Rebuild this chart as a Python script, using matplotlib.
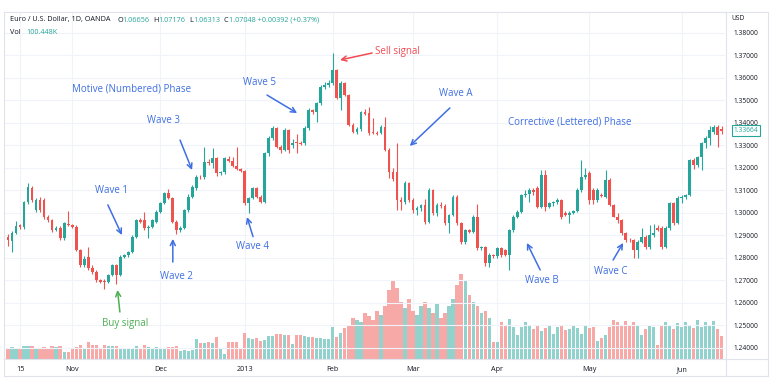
import matplotlib
matplotlib.use("Agg")
import matplotlib.pyplot as plt
from matplotlib.lines import Line2D
from matplotlib.ticker import FormatStrFormatter

W, H = 780, 387

# daily EUR/USD candles (index = trading day)
open_ = [1.2895, 1.2875, 1.2913, 1.2945, 1.2938, 1.3047, 1.3113, 1.3013, 1.3058, 1.3058,
         1.2984, 1.2969, 1.2924, 1.2932, 1.2887, 1.2952, 1.2946, 1.2939, 1.2836, 1.2769,
         1.2806, 1.2754, 1.2739, 1.2702, 1.2697, 1.2693, 1.2724, 1.2769, 1.2724, 1.2806,
         1.2813, 1.2828, 1.2895, 1.2969, 1.2969, 1.2932, 1.2939, 1.2961, 1.3006, 1.3043,
         1.3087, 1.3065, 1.2961, 1.2924, 1.2932, 1.3013, 1.3073, 1.3110, 1.3162, 1.3158,
         1.3228, 1.3221, 1.3243, 1.3176, 1.3180, 1.3240, 1.3230, 1.3210, 1.3195, 1.3185,
         1.3043, 1.3065, 1.3110, 1.3073, 1.3050, 1.3265, 1.3332, 1.3376, 1.3295, 1.3280,
         1.3369, 1.3300, 1.3317, 1.3310, 1.3310, 1.3376, 1.3458, 1.3450, 1.3488, 1.3562,
         1.3570, 1.3578, 1.3636, 1.3510, 1.3576, 1.3525, 1.3390, 1.3360, 1.3372, 1.3450,
         1.3443, 1.3360, 1.3355, 1.3354, 1.3384, 1.3280, 1.3184, 1.3184, 1.3058, 1.3050,
         1.3132, 1.3058, 1.3013, 1.3020, 1.3036, 1.2961, 1.3102, 1.2999, 1.3036, 1.3030,
         1.2954, 1.2990, 1.3073, 1.2954, 1.2873, 1.2924, 1.2917, 1.2984, 1.2843, 1.2850,
         1.2776, 1.2813, 1.2810, 1.2843, 1.2835, 1.2813, 1.2924, 1.2984, 1.3006, 1.3080,
         1.3085, 1.3100, 1.3110, 1.3028, 1.3169, 1.3028, 1.3043, 1.3050, 1.3058, 1.3002,
         1.2990, 1.3002, 1.3010, 1.3102, 1.3162, 1.3176, 1.3100, 1.3058, 1.3080, 1.3073,
         1.3147, 1.3036, 1.2984, 1.2969, 1.2910, 1.2880, 1.2878, 1.2836, 1.2873, 1.2895,
         1.2849, 1.2900, 1.2932, 1.2932, 1.2850, 1.2932, 1.3043, 1.2954, 1.3065, 1.3070,
         1.3080, 1.3236, 1.3213, 1.3250, 1.3310, 1.3332, 1.3360, 1.3380, 1.3375]
high = [1.2905, 1.2920, 1.2965, 1.2952, 1.3052, 1.3135, 1.3120, 1.3065, 1.3070, 1.3065,
        1.2992, 1.2975, 1.2940, 1.2940, 1.2960, 1.3010, 1.2950, 1.2945, 1.2840, 1.2810,
        1.2850, 1.2770, 1.2745, 1.2708, 1.2705, 1.2730, 1.2775, 1.2775, 1.2812, 1.2818,
        1.2830, 1.2900, 1.2975, 1.2978, 1.3005, 1.2945, 1.2975, 1.3012, 1.3048, 1.3092,
        1.3105, 1.3070, 1.2968, 1.2940, 1.3018, 1.3085, 1.3125, 1.3170, 1.3170, 1.3295,
        1.3240, 1.3290, 1.3250, 1.3185, 1.3250, 1.3255, 1.3250, 1.3295, 1.3200, 1.3190,
        1.3070, 1.3115, 1.3115, 1.3078, 1.3270, 1.3340, 1.3385, 1.3382, 1.3300, 1.3378,
        1.3372, 1.3330, 1.3350, 1.3320, 1.3385, 1.3465, 1.3462, 1.3495, 1.3570, 1.3580,
        1.3590, 1.3711, 1.3640, 1.3585, 1.3580, 1.3530, 1.3400, 1.3380, 1.3455, 1.3460,
        1.3470, 1.3420, 1.3365, 1.3390, 1.3428, 1.3290, 1.3200, 1.3310, 1.3070, 1.3140,
        1.3138, 1.3065, 1.3030, 1.3040, 1.3060, 1.3110, 1.3108, 1.3045, 1.3050, 1.3040,
        1.2995, 1.3080, 1.3078, 1.2960, 1.2930, 1.2930, 1.2990, 1.3040, 1.2855, 1.2855,
        1.2820, 1.2818, 1.2850, 1.2848, 1.2840, 1.2930, 1.2990, 1.3015, 1.3085, 1.3100,
        1.3110, 1.3110, 1.3120, 1.3190, 1.3190, 1.3050, 1.3055, 1.3065, 1.3062, 1.3010,
        1.3010, 1.3015, 1.3110, 1.3236, 1.3200, 1.3185, 1.3110, 1.3110, 1.3090, 1.3190,
        1.3155, 1.3040, 1.3000, 1.2975, 1.2915, 1.2890, 1.2885, 1.2880, 1.2935, 1.2900,
        1.2945, 1.2950, 1.2945, 1.2940, 1.2940, 1.3050, 1.3048, 1.3075, 1.3080, 1.3085,
        1.3240, 1.3245, 1.3255, 1.3315, 1.3340, 1.3385, 1.3390, 1.3390, 1.3385]
low = [1.2855, 1.2825, 1.2905, 1.2930, 1.2930, 1.3040, 1.3050, 1.3005, 1.3005, 1.2975,
       1.2960, 1.2915, 1.2918, 1.2880, 1.2882, 1.2942, 1.2935, 1.2830, 1.2760, 1.2762,
       1.2745, 1.2730, 1.2695, 1.2688, 1.2660, 1.2688, 1.2718, 1.2685, 1.2718, 1.2800,
       1.2805, 1.2822, 1.2890, 1.2955, 1.2925, 1.2890, 1.2935, 1.2955, 1.3000, 1.3038,
       1.3060, 1.2955, 1.2905, 1.2915, 1.2928, 1.3005, 1.3065, 1.3100, 1.3150, 1.3150,
       1.3215, 1.3200, 1.3165, 1.3170, 1.3175, 1.3225, 1.3205, 1.3190, 1.3180, 1.3035,
       1.3000, 1.3060, 1.3068, 1.3045, 1.3045, 1.3255, 1.3325, 1.3290, 1.3265, 1.3275,
       1.3265, 1.3290, 1.3265, 1.3300, 1.3300, 1.3370, 1.3440, 1.3405, 1.3480, 1.3550,
       1.3560, 1.3570, 1.3505, 1.3458, 1.3520, 1.3385, 1.3355, 1.3350, 1.3365, 1.3435,
       1.3348, 1.3350, 1.3345, 1.3350, 1.3275, 1.3154, 1.3140, 1.3013, 1.3015, 1.3040,
       1.3050, 1.3000, 1.2990, 1.3010, 1.2950, 1.2955, 1.2990, 1.2985, 1.3020, 1.2945,
       1.2910, 1.2985, 1.2948, 1.2860, 1.2860, 1.2910, 1.2910, 1.2835, 1.2835, 1.2765,
       1.2760, 1.2800, 1.2800, 1.2805, 1.2810, 1.2747, 1.2915, 1.2978, 1.2998, 1.3070,
       1.3050, 1.3080, 1.3020, 1.3020, 1.3010, 1.3020, 1.3030, 1.3040, 1.2975, 1.2985,
       1.2955, 1.2995, 1.3005, 1.3095, 1.3150, 1.3040, 1.3040, 1.3050, 1.3070, 1.3065,
       1.3030, 1.2980, 1.2955, 1.2900, 1.2870, 1.2872, 1.2800, 1.2800, 1.2865, 1.2840,
       1.2840, 1.2892, 1.2920, 1.2840, 1.2845, 1.2925, 1.2945, 1.2950, 1.3045, 1.3060,
       1.3075, 1.3195, 1.3205, 1.3190, 1.3290, 1.3300, 1.3350, 1.3293, 1.3350]
close = [1.2880, 1.2913, 1.2942, 1.2938, 1.3047, 1.3115, 1.3058, 1.3058, 1.3013, 1.2984,
         1.2969, 1.2924, 1.2932, 1.2887, 1.2954, 1.2946, 1.2939, 1.2836, 1.2769, 1.2795,
         1.2754, 1.2739, 1.2702, 1.2695, 1.2693, 1.2724, 1.2769, 1.2724, 1.2806, 1.2813,
         1.2828, 1.2895, 1.2969, 1.2962, 1.2932, 1.2939, 1.2969, 1.3006, 1.3043, 1.3087,
         1.3065, 1.2961, 1.2924, 1.2932, 1.3013, 1.3073, 1.3117, 1.3162, 1.3158, 1.3228,
         1.3221, 1.3243, 1.3176, 1.3180, 1.3243, 1.3230, 1.3210, 1.3195, 1.3185, 1.3043,
         1.3065, 1.3110, 1.3073, 1.3050, 1.3265, 1.3332, 1.3376, 1.3295, 1.3280, 1.3369,
         1.3280, 1.3310, 1.3313, 1.3308, 1.3376, 1.3458, 1.3450, 1.3488, 1.3562, 1.3570,
         1.3578, 1.3636, 1.3510, 1.3576, 1.3525, 1.3390, 1.3360, 1.3372, 1.3450, 1.3440,
         1.3354, 1.3355, 1.3352, 1.3384, 1.3280, 1.3184, 1.3150, 1.3058, 1.3050, 1.3132,
         1.3058, 1.3013, 1.3020, 1.3036, 1.2961, 1.3102, 1.2999, 1.3036, 1.3030, 1.2954,
         1.2990, 1.3073, 1.2954, 1.2873, 1.2924, 1.2917, 1.2984, 1.2843, 1.2850, 1.2776,
         1.2813, 1.2810, 1.2843, 1.2813, 1.2813, 1.2924, 1.2984, 1.3006, 1.3080, 1.3085,
         1.3102, 1.3095, 1.3028, 1.3169, 1.3028, 1.3043, 1.3050, 1.3058, 1.2984, 1.2990,
         1.3002, 1.3010, 1.3102, 1.3162, 1.3170, 1.3058, 1.3058, 1.3102, 1.3075, 1.3147,
         1.3036, 1.2984, 1.2969, 1.2910, 1.2880, 1.2878, 1.2836, 1.2873, 1.2895, 1.2849,
         1.2902, 1.2912, 1.2925, 1.2850, 1.2932, 1.3043, 1.2954, 1.3065, 1.3070, 1.3078,
         1.3236, 1.3213, 1.3250, 1.3310, 1.3332, 1.3370, 1.3380, 1.3345, 1.33664]
volume_k = [50, 52, 48, 50, 56, 58, 55, 50, 48, 52, 50, 55, 54, 56, 32, 30, 48, 52, 60, 48,
            75, 62, 60, 45, 62, 58, 55, 56, 50, 50, 45, 48, 55, 50, 60, 52, 50, 52, 50, 50,
            52, 54, 55, 36, 38, 36, 38, 88, 70, 68, 74, 70, 95, 42, 22, 75, 74, 74, 45, 115,
            92, 88, 90, 80, 82, 100, 100, 108, 110, 106, 104, 65, 104, 106, 100, 94, 95, 90, 92, 86,
            88, 140, 95, 112, 135, 150, 180, 170, 160, 200, 185, 170, 210, 190, 230, 300, 340, 310, 250, 220,
            260, 210, 190, 230, 250, 220, 200, 240, 180, 200, 230, 260, 320, 370, 340, 280, 250, 230, 200, 210,
            180, 75, 72, 160, 150, 175, 140, 105, 140, 160, 150, 130, 145, 120, 135, 150, 110, 140, 150, 125,
            130, 145, 135, 110, 150, 135, 140, 80, 90, 105, 140, 170, 160, 150, 165, 145, 160, 150, 105, 130,
            150, 140, 62, 145, 160, 150, 130, 155, 140, 160, 145, 135, 170, 140, 160, 145, 165, 130, 100]

month_ticks = [3, 16, 38, 59, 81, 101, 122, 145, 168]
month_labels = ["15", "Nov", "Dec", "2013", "Feb", "Mar", "Apr", "May", "Jun"]
price_ticks = [1.24, 1.25, 1.26, 1.27, 1.28, 1.29, 1.30, 1.31, 1.32, 1.33, 1.34, 1.35, 1.36, 1.37, 1.38]
last_price = 1.33664

UP, DOWN = "#26a69a", "#ef5350"
VOL_UP, VOL_DOWN = "#92d2cc", "#f7a9a7"
BLUE, RED, GREEN = "#3f6fe2", "#f04a52", "#4caf50"
INK = "#131722"
plt.rcParams["font.family"] = ["Open Sans", "DejaVu Sans"]


def px_box(x0, y0, x1, y1):
    return [x0 / W, 1 - y1 / H, (x1 - x0) / W, (y1 - y0) / H]


fig = plt.figure(figsize=(W / 100, H / 100), dpi=100)
xlim = (-0.75, 178.8)
ylim = (1.23511, 1.38933)

# volume + vertical grid underneath the candles
axv = fig.add_axes(px_box(5, 12, 725, 359))
axv.set_xlim(*xlim)
axv.set_ylim(0, 1510)
for t in month_ticks:
    axv.axvline(t, color="#f0f3fa", lw=0.8, zorder=0)
axv.axis("off")
idx = list(range(len(close)))
up = [c >= o for o, c in zip(open_, close)]
axv.bar(idx, volume_k, width=0.82, color=[VOL_UP if u else VOL_DOWN for u in up], zorder=2)

ax = fig.add_axes(px_box(5, 12, 725, 359))
ax.patch.set_visible(False)
ax.set_xlim(*xlim)
ax.set_ylim(*ylim)
for p in price_ticks:
    ax.axhline(p, color="#f0f3fa", lw=0.8, zorder=0)

cols = [UP if u else DOWN for u in up]
ax.vlines(idx, low, high, colors=cols, lw=0.8, zorder=2)
ax.bar(idx, [max(abs(c - o), 0.0002) for o, c in zip(open_, close)],
       bottom=[min(o, c) for o, c in zip(open_, close)], width=0.68, color=cols, zorder=3)

ax.yaxis.tick_right()
ax.set_yticks(price_ticks)
ax.yaxis.set_major_formatter(FormatStrFormatter("%.5f"))
ax.tick_params(axis="y", length=0, pad=6, labelsize=4.8, labelcolor=INK)
ax.set_xticks(month_ticks, month_labels)
ax.tick_params(axis="x", length=0, pad=5, labelsize=5.2, labelcolor=INK)
for s in ax.spines.values():
    s.set_visible(False)

# frame lines
for xs, ys in [((4, 768), (359, 359)), ((4, 768), (376, 376)), ((4, 4), (12, 376)),
               ((725.5, 725.5), (12, 376)), ((768, 768), (12, 376)), ((4, 768), (12, 12))]:
    fig.add_artist(Line2D([x / W for x in xs], [1 - y / H for y in ys], color="#e0e3eb", lw=0.8))

# last price tag
ax.annotate(f"{last_price:.5f}", xy=(1.0, last_price), xycoords=("axes fraction", "data"),
            xytext=(6, 0), textcoords="offset points", va="center", ha="left",
            fontsize=4.8, color=UP, annotation_clip=False,
            bbox=dict(boxstyle="square,pad=0.25", fc="white", ec=UP, lw=0.8))

# header
hy1, hy2 = 1 - 20 / H, 1 - 32 / H
fig.text(10 / W, hy1, "Euro / U.S. Dollar, 1D, OANDA", fontsize=5.2, color=INK, va="center")
for x, s, c in [(117, "O", INK), (122, "1.06656", UP), (153, "H", INK), (158, "1.07176", UP),
                (189, "L", INK), (193, "1.06313", UP), (224, "C", INK),
                (229, "1.07048 +0.00392 (+0.37%)", UP)]:
    fig.text(x / W, hy1, s, fontsize=5.2, color=c, va="center")
fig.text(10 / W, hy2, "Vol", fontsize=5.2, color=INK, va="center")
fig.text(26 / W, hy2, "100.448K", fontsize=5.2, color=UP, va="center")
fig.text(731 / W, 1 - 18 / H, "USD", fontsize=4.8, color=INK, va="center")


# annotations (data coords: trading-day index, price)
def label(x, y, s, color=BLUE):
    ax.text(x, y, s, color=color, fontsize=7, ha="center", va="center", zorder=5)


def arrow(tail, head, color=BLUE):
    ax.annotate("", xy=head, xytext=tail, zorder=5,
                arrowprops=dict(arrowstyle="->", color=color, lw=1.1, mutation_scale=9,
                                shrinkA=0, shrinkB=0))


label(30.7, 1.3551, "Motive (Numbered) Phase")
label(25.7, 1.3102, "Wave 1")
arrow((24.9, 1.3036), (28.4, 1.2902))
label(41.9, 1.2716, "Wave 2")
arrow((41.1, 1.2782), (41.1, 1.2885))
label(38.7, 1.3413, "Wave 3")
arrow((42.9, 1.3324), (45.9, 1.3191))
label(61.0, 1.2852, "Wave 4")
arrow((61.1, 1.2895), (59.6, 1.2982))
label(62.8, 1.3582, "Wave 5")
arrow((64.6, 1.3524), (72.1, 1.3444))
ax.text(91.6, 1.3716, "Sell signal", color=RED, fontsize=7, ha="left", va="center", zorder=5)
arrow((90.8, 1.3711), (82.8, 1.3680), RED)
label(111.7, 1.3533, "Wave A")
arrow((110.2, 1.3467), (100.2, 1.3298))
label(140.1, 1.3404, "Corrective (Lettered) Phase")
label(133.2, 1.2698, "Wave B")
arrow((132.7, 1.2747), (129.4, 1.2867))
label(150.4, 1.2738, "Wave C")
arrow((150.9, 1.2791), (153.4, 1.2867))
label(29.2, 1.2511, "Buy signal", GREEN)
arrow((27.9, 1.2560), (27.3, 1.2658), GREEN)

fig.savefig("out.png", dpi=100, facecolor="white")
